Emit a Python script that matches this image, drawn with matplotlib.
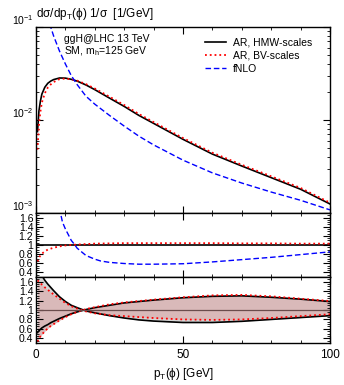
import numpy as np
import matplotlib
matplotlib.use("Agg")
import matplotlib.pyplot as plt
from matplotlib.ticker import MultipleLocator, LogLocator, NullFormatter

plt.rcParams['font.family'] = ['Liberation Sans', 'DejaVu Sans']
plt.rcParams['mathtext.fontset'] = 'custom'
plt.rcParams['mathtext.rm'] = 'Liberation Sans'
plt.rcParams['mathtext.it'] = 'Liberation Sans'

# pT grid (GeV)
pt = [0.5, 1, 1.5, 2, 3, 4, 5, 6, 8, 10, 12, 14, 17, 20, 25, 30, 35, 40, 50, 60, 70, 80, 90, 100]

# distributions 1/sigma dsigma/dpT
ar_hmw = [0.0075, 0.0125, 0.016, 0.019, 0.0225, 0.0248, 0.0262, 0.0272, 0.0283, 0.0282, 0.0274, 0.0262,
          0.0238, 0.0212, 0.0172, 0.0140, 0.0112, 0.0092, 0.0062, 0.0043, 0.0032, 0.0024, 0.0018, 0.00125]
ar_bv = [0.0048, 0.009, 0.0123, 0.0154, 0.0194, 0.0223, 0.0241, 0.0256, 0.0275, 0.0279, 0.0274, 0.0265,
         0.0243, 0.0218, 0.0178, 0.0145, 0.0116, 0.0095, 0.0064, 0.00445, 0.0033, 0.00248, 0.00186, 0.00129]

pt_nlo = [3, 4, 5, 6, 8, 10, 12, 14, 17, 20, 25, 30, 35, 40, 50, 60, 70, 80, 90, 100]
fnlo = [0.2, 0.13, 0.1, 0.08, 0.055, 0.04, 0.03, 0.024, 0.018, 0.0148, 0.0112, 0.0086, 0.0067, 0.0054,
        0.0037, 0.0027, 0.0021, 0.00168, 0.00137, 0.00108]

# ratios to AR, HMW-scales
ratio_bv = [0.64, 0.72, 0.77, 0.81, 0.86, 0.9, 0.92, 0.94, 0.97, 0.99, 1.0, 1.01, 1.02, 1.03, 1.035, 1.04,
            1.04, 1.04, 1.04, 1.04, 1.035, 1.035, 1.03, 1.03]
pt_rnlo = [6, 7, 8, 9, 10, 12, 13, 14, 17, 20, 22, 25, 30, 35, 40, 45, 50, 60, 70, 80, 90, 100]
ratio_nlo = [2.9, 2.2, 1.8, 1.5, 1.35, 1.1, 1.02, 0.93, 0.77, 0.69, 0.65, 0.62, 0.595, 0.58, 0.58, 0.585,
             0.59, 0.63, 0.68, 0.73, 0.79, 0.85]

# scale variation bands (normalised to central)
hmw_a = [2.0, 1.9, 1.82, 1.73, 1.63, 1.55, 1.48, 1.41, 1.28, 1.18, 1.1, 1.05, 0.98, 0.94, 0.88, 0.83,
         0.79, 0.765, 0.735, 0.735, 0.76, 0.8, 0.84, 0.88]
hmw_b = [0.52, 0.56, 0.59, 0.62, 0.66, 0.69, 0.73, 0.76, 0.82, 0.87, 0.92, 0.96, 1.01, 1.05, 1.1, 1.15,
         1.18, 1.21, 1.26, 1.29, 1.3, 1.27, 1.23, 1.18]
bv_a = [1.63, 1.6, 1.57, 1.54, 1.48, 1.43, 1.38, 1.33, 1.24, 1.15, 1.08, 1.03, 0.97, 0.93, 0.89, 0.87,
        0.85, 0.83, 0.8, 0.79, 0.8, 0.83, 0.87, 0.91]
bv_b = [0.33, 0.4, 0.44, 0.48, 0.55, 0.61, 0.66, 0.7, 0.78, 0.85, 0.91, 0.96, 1.02, 1.06, 1.12, 1.16,
        1.19, 1.22, 1.27, 1.31, 1.32, 1.29, 1.24, 1.19]

fig = plt.figure(figsize=(3.44, 3.85), dpi=100)
L, W = 36/344, 294/344
ax1 = fig.add_axes([L, 1-213/385, W, 186/385])
ax2 = fig.add_axes([L, 1-277/385, W, 64/385])
ax3 = fig.add_axes([L, 1-343/385, W, 66/385])

dash_nlo = (0, (4, 2))

# top panel
ax1.plot(pt, ar_hmw, color='black', lw=1.2, label='AR, HMW-scales')
ax1.plot(pt, ar_bv, color='red', lw=1.3, ls=':', label='AR, BV-scales')
ax1.plot(pt_nlo, fnlo, color='blue', lw=1.0, ls=dash_nlo, label='fNLO')
ax1.set_yscale('log')
ax1.set_ylim(1e-3, 1e-1)
ax1.yaxis.set_major_locator(LogLocator(base=10, numticks=5))
ax1.yaxis.set_minor_locator(LogLocator(base=10, subs=np.arange(2, 10), numticks=20))
ax1.yaxis.set_minor_formatter(NullFormatter())
ax1.legend(loc='upper right', frameon=False, fontsize=7.5, handlelength=2.0, handletextpad=0.6,
           labelspacing=0.3, bbox_to_anchor=(0.97, 0.995))
ax1.text(0.095, 0.934, 'ggH@LHC 13 TeV', transform=ax1.transAxes, fontsize=7.5, va='center')
ax1.text(0.095, 0.872, 'SM, m$_\\mathrm{h}$=125 GeV', transform=ax1.transAxes, fontsize=7.5, va='center')
fig.text(L, 1-14/385, 'd$\\sigma$/dp$_\\mathrm{T}$($\\phi$) 1/$\\sigma$  [1/GeV]', fontsize=8.5,
         va='center', ha='left')

# middle panel: ratios
ax2.axhline(1.0, color='black', lw=1.2)
ax2.plot(pt, ratio_bv, color='red', lw=1.3, ls=':')
ax2.plot(pt_rnlo, ratio_nlo, color='blue', lw=1.0, ls=dash_nlo)

# bottom panel: scale bands
ax3.fill_between(pt, hmw_a, hmw_b, color='#d6d6d6', lw=0)
ax3.fill_between(pt, bv_a, bv_b, color='#d9b9b9', lw=0)
ax3.plot(pt, hmw_a, color='black', lw=1.2)
ax3.plot(pt, hmw_b, color='black', lw=1.2)
ax3.plot(pt, bv_a, color='red', lw=1.3, ls=':')
ax3.plot(pt, bv_b, color='red', lw=1.3, ls=':')
ax3.axhline(1.0, color='#6a4c4c', lw=0.9)

for ax in (ax2, ax3):
    ax.set_ylim(0.3, 1.7)
    ax.yaxis.set_minor_locator(MultipleLocator(0.05))
    ax.set_yticks([0.4, 0.6, 0.8, 1.0, 1.2, 1.4, 1.6])
    ax.set_yticklabels(['0.4', '0.6', '0.8', '1', '1.2', '1.4', '1.6'])

for ax in (ax1, ax2, ax3):
    ax.set_xlim(0, 100)
    ax.xaxis.set_major_locator(MultipleLocator(50))
    ax.xaxis.set_minor_locator(MultipleLocator(10))
    ax.tick_params(which='both', direction='in', top=True, right=True, labelsize=7.5, pad=2)
    ax.tick_params(which='major', length=5, width=0.8)
    ax.tick_params(which='minor', length=2.5, width=0.6)
    for s in ax.spines.values():
        s.set_linewidth(1.0)

# lift the 10^-3 label a little off the ratio labels below it
for lab in ax1.get_yticklabels():
    lab.set_verticalalignment('bottom')

ax1.tick_params(labelbottom=False)
ax2.tick_params(labelbottom=False)
ax3.tick_params(axis='x', labelsize=8.5, pad=4)
ax3.set_xlabel('p$_\\mathrm{T}$($\\phi$) [GeV]', fontsize=8.5, labelpad=4)

fig.savefig('out.png', dpi=100)
